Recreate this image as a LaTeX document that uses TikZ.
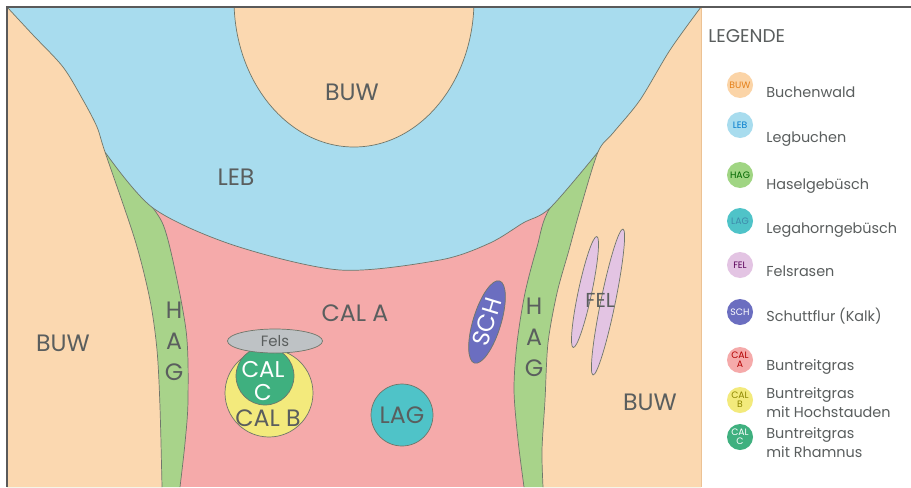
\documentclass[tikz,border=0pt]{standalone}
\usepackage{fontspec}
\setmainfont{Poppins}
\usetikzlibrary{shapes.geometric}

\definecolor{buw}{HTML}{FBD8B0}
\definecolor{leb}{HTML}{A8DCEE}
\definecolor{hag}{HTML}{A8D38A}
\definecolor{cala}{HTML}{F5AAAA}
\definecolor{calb}{HTML}{F3EA7C}
\definecolor{calc}{HTML}{3FB07F}
\definecolor{lag}{HTML}{4FC3C8}
\definecolor{sch}{HTML}{6B6EC0}
\definecolor{fel}{HTML}{E3C4E3}
\definecolor{fels}{HTML}{BEC2C5}
\definecolor{rim}{HTML}{6F766A}
\definecolor{ink}{HTML}{5A5E5E}
\definecolor{frame}{HTML}{5A5A5A}

\begin{document}
\begin{tikzpicture}[
  x=0.02cm, y=-0.02cm,
  edge/.style={draw=rim,line width=0.4pt},
  blob/.style={draw=rim,line width=0.4pt,inner sep=0pt},
  big/.style={text=ink,inner sep=0pt,font=\fontsize{13.5}{14}\selectfont},
  slbl/.style={text=ink,inner sep=0pt,font=\fontsize{8.5}{9}\selectfont},
  key/.style={circle,inner sep=0pt,minimum size=0.52cm,align=center,font=\fontsize{5.3}{5.3}\selectfont},
  keytxt/.style={anchor=base west,text=ink,inner sep=0pt,align=left,font=\fontsize{8.2}{10.8}\selectfont}
]
\useasboundingbox (0,0) rectangle (911,487);
\fill[white] (0,0) rectangle (911,487);

% ---- CAL A underneath everything ----
\fill[cala] (7,7) rectangle (701,487);

% ---- HAG strips (inner edges) ----
\fill[hag] (7,152) -- plot[smooth] coordinates {(105,152) (153,208) (168,240) (186,330) (188,400) (185,443) (180,487)} -- (7,487) -- cycle;
\draw[edge] plot[smooth] coordinates {(105,152) (153,208) (168,240) (186,330) (188,400) (185,443) (180,487)};
\fill[hag] (701,152) -- plot[smooth] coordinates {(598,152) (550,208) (537,247) (525,293) (517,343) (514,390) (518,440) (524,487)} -- (701,487) -- cycle;
\draw[edge] plot[smooth] coordinates {(598,152) (550,208) (537,247) (525,293) (517,343) (514,390) (518,440) (524,487)};

% ---- LEB bowl ----
\fill[leb] (7,7) -- (7,152) -- plot[smooth] coordinates {(105,152) (153,208) (233,245) (340,270) (440,260) (490,243) (523,223) (550,208) (598,152)} -- (701,152) -- (701,7) -- cycle;
\draw[edge] plot[smooth] coordinates {(105,152) (153,208) (233,245) (340,270) (440,260) (490,243) (523,223) (550,208) (598,152)};

% ---- BUW left and right ----
\fill[buw] plot[smooth] coordinates {(7,7) (33,35) (63,67) (83,100) (97,127) (105,152) (135,240) (150,300) (157,350) (160,407) (162,487)} -- (7,487) -- cycle;
\draw[edge] plot[smooth] coordinates {(7,7) (33,35) (63,67) (83,100) (97,127) (105,152) (135,240) (150,300) (157,350) (160,407) (162,487)};
\fill[buw] plot[smooth] coordinates {(701,7) (670,50) (640,100) (613,133) (598,152) (580,210) (569,250) (557,293) (548,343) (545,400) (542,450) (543,487)} -- (701,487) -- cycle;
\draw[edge] plot[smooth] coordinates {(701,7) (670,50) (640,100) (613,133) (598,152) (580,210) (569,250) (557,293) (548,343) (545,400) (542,450) (543,487)};

% ---- BUW on top ----
\begin{scope}
\clip (7,7) rectangle (701,487);
\fill[buw] (354,0) ellipse [x radius=120, y radius=147];
\draw[edge] (354,0) ellipse [x radius=120, y radius=147];
\end{scope}

% ---- patches inside CAL A ----
\node[blob,circle,fill=calb,minimum size=1.76cm] (calb) at (269,393) {};
\node[blob,circle,fill=calc,minimum size=1.16cm] (calc) at (265,376) {};
\node[blob,ellipse,fill=fels,minimum width=1.9cm,minimum height=0.48cm,slbl] (fels) at (275,341) {Fels};
\node[big,text=white,align=center,font=\fontsize{13}{13.6}\selectfont] (calcl) at (263,381) {CAL\\C};
\node[big] (calbl) at (268,418) {CAL B};
\node[blob,circle,fill=lag,minimum size=1.24cm,big] (lag) at (402,415) {LAG};
\node[blob,ellipse,fill=sch,minimum width=1.72cm,minimum height=0.56cm,rotate=73,big,text=white] (sch) at (487,322) {SCH};
\node[blob,ellipse,fill=fel,minimum width=2.27cm,minimum height=0.27cm,rotate=78] (fel1) at (585,292) {};
\node[blob,ellipse,fill=fel,minimum width=2.98cm,minimum height=0.29cm,rotate=78.4] (fel2) at (608,302) {};

% ---- map labels ----
\node[big] (buwtop) at (352,92) {BUW};
\node[big] (lebl) at (236,177) {LEB};
\node[big] (buwl) at (63,343) {BUW};
\node[big] (buwr) at (650,402) {BUW};
\node[big] (calal) at (355,313) {CAL A};
\node[big,align=center,font=\fontsize{13.5}{17.6}\selectfont] (hagl) at (174,341) {H\\A\\G};
\node[big,align=center,font=\fontsize{13.5}{17.6}\selectfont] (hagr) at (534,337) {H\\A\\G};
\node[big,font=\fontsize{11.5}{12}\selectfont] (fell) at (600,300) {FEL};

% ---- frame ----
\draw[buw!75!brown,line width=0.4pt] (701,7) -- (701,487);
\draw[frame,line width=0.6pt] (7,487) -- (7,7) -- (911,7);

% ---- legend ----
\node[anchor=base west,text=ink,inner sep=0pt,font=\fontsize{10.5}{12}\selectfont] (legende) at (708,42.7) {LEGENDE};

\node[key,fill=buw!95!orange,text=orange!60!brown] (kbuw) at (740,85) {BUW};
\node[keytxt] (tbuw) at (766,97.7) {Buchenwald};
\node[key,fill=leb,text=blue!40!cyan!80!black] (kleb) at (740,125) {LEB};
\node[keytxt] (tleb) at (766,142.7) {Legbuchen};
\node[key,fill=hag!95!green,text=green!40!black] (khag) at (740,175) {HAG};
\node[keytxt] (thag) at (766,189) {Haselgebüsch};
\node[key,fill=lag,text=cyan!30!teal] (klag) at (740,221) {LAG};
\node[keytxt] (tlag) at (766,233) {Legahorngebüsch};
\node[key,fill=fel,text=violet!70!black] (kfel) at (740,265) {FEL};
\node[keytxt] (tfel) at (766,276.7) {Felsrasen};
\node[key,fill=sch,text=white] (ksch) at (740,312) {SCH};
\node[keytxt] (tsch) at (766,321) {Schuttflur (Kalk)};
\node[key,fill=cala,text=red!70!black] (kcala) at (740,360) {CAL\\A};
\node[keytxt] (tcala) at (766,370) {Buntreitgras};
\node[key,fill=calb,text=olive] (kcalb) at (740,400) {CAL\\B};
\node[keytxt] (tcalb) at (766,417) {Buntreitgras\\mit Hochstauden};
\node[key,fill=calc,text=white] (kcalc) at (740,437) {CAL\\C};
\node[keytxt] (tcalc) at (766,457) {Buntreitgras\\mit Rhamnus};

\end{tikzpicture}
\end{document}
